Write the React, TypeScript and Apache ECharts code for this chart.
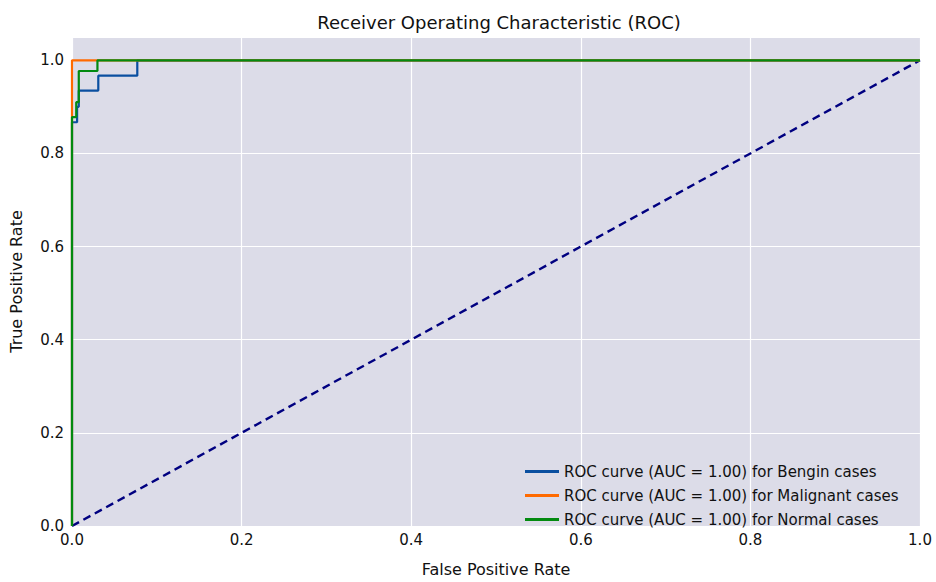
import React, { useEffect, useRef } from "react";
import * as echarts from "echarts";

// ROC curve points as [false positive rate, true positive rate]
const benginFpr = [0, 0, 0.006, 0.006, 0.008, 0.008, 0.031, 0.031, 0.077, 0.077, 1];
const benginTpr = [0, 0.867, 0.867, 0.9, 0.9, 0.935, 0.935, 0.967, 0.967, 1, 1];

const malignantFpr = [0, 0, 1];
const malignantTpr = [0, 1, 1];

const normalFpr = [0, 0, 0.005, 0.005, 0.008, 0.008, 0.03, 0.03, 1];
const normalTpr = [0, 0.878, 0.878, 0.91, 0.91, 0.977, 0.977, 1, 1];

const chanceFpr = [0, 1];
const chanceTpr = [0, 1];

const seriesNames = [
  "ROC curve (AUC = 1.00) for Bengin cases",
  "ROC curve (AUC = 1.00) for Malignant cases",
  "ROC curve (AUC = 1.00) for Normal cases",
];
const seriesColors = ["#0a4fa0", "#ff6a00", "#038a10"];

const zip = (xs: number[], ys: number[]) => xs.map((x, i) => [x, ys[i]]);

const FONT = "DejaVu Sans";

export default function App() {
  const ref = useRef<HTMLDivElement>(null);

  useEffect(() => {
    if (!ref.current) return;
    const chart = echarts.init(ref.current, undefined, { renderer: "svg" });
    const curves = [
      zip(benginFpr, benginTpr),
      zip(malignantFpr, malignantTpr),
      zip(normalFpr, normalTpr),
    ];
    chart.setOption({
      animation: false,
      backgroundColor: "#ffffff",
      textStyle: { fontFamily: FONT },
      title: {
        text: "Receiver Operating Characteristic (ROC)",
        left: 494,
        textAlign: "center",
        top: 8,
        textStyle: { fontFamily: FONT, fontSize: 18, fontWeight: "normal", color: "#111" },
      },
      grid: {
        left: 66,
        right: 16,
        top: 37,
        bottom: 45,
        show: true,
        backgroundColor: "#dcdce8",
        borderWidth: 0,
      },
      xAxis: {
        type: "value",
        min: 0,
        max: 1,
        interval: 0.2,
        name: "False Positive Rate",
        nameLocation: "middle",
        nameGap: 35,
        nameTextStyle: { fontFamily: FONT, fontSize: 16, color: "#111" },
        axisLine: { show: false },
        axisTick: { show: false },
        axisLabel: {
          fontFamily: FONT,
          fontSize: 15,
          color: "#111",
          margin: 6,
          formatter: (v: number) => v.toFixed(1),
        },
        splitLine: { show: true, lineStyle: { color: "#ffffff", width: 1.2 } },
      },
      yAxis: {
        type: "value",
        min: 0,
        max: 1.05,
        interval: 0.2,
        name: "True Positive Rate",
        nameLocation: "middle",
        nameGap: 48,
        nameTextStyle: { fontFamily: FONT, fontSize: 16, color: "#111" },
        axisLine: { show: false },
        axisTick: { show: false },
        axisLabel: {
          fontFamily: FONT,
          fontSize: 15,
          color: "#111",
          margin: 8,
          showMaxLabel: false,
          formatter: (v: number) => (v > 1.001 ? "" : v.toFixed(1)),
        },
        splitLine: { show: true, lineStyle: { color: "#ffffff", width: 1.2 } },
      },
      legend: {
        data: seriesNames,
        orient: "vertical",
        left: 520,
        top: 459,
        icon: "rect",
        itemWidth: 34,
        itemHeight: 3,
        itemGap: 9,
        textStyle: { fontFamily: FONT, fontSize: 15, color: "#111" },
      },
      series: [
        ...curves.map((d, i) => ({
          name: seriesNames[i],
          type: "line",
          data: d,
          showSymbol: false,
          symbol: "none",
          lineStyle: { color: seriesColors[i], width: 2.2 },
          itemStyle: { color: seriesColors[i] },
          z: 3 + i,
        })),
        {
          name: "chance",
          type: "line",
          data: zip(chanceFpr, chanceTpr),
          showSymbol: false,
          symbol: "none",
          lineStyle: { color: "#000080", width: 2.4, type: [8, 5] },
          z: 2,
        },
      ],
    });
    return () => chart.dispose();
  }, []);

  return (
    <div
      ref={ref}
      style={{ position: "absolute", left: 0, top: 0, width: 936, height: 582 }}
    />
  );
}
